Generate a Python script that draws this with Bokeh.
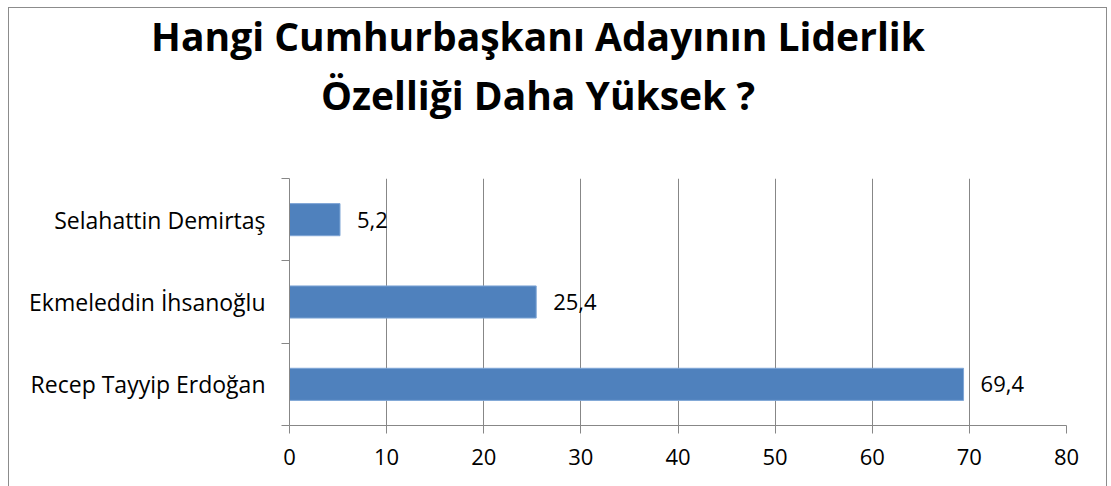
from bokeh.plotting import figure
from bokeh.models import FixedTicker, ColumnDataSource, Range1d, Div
from bokeh.layouts import column
from bokeh.core.properties import value
from bokeh.embed import file_html
from bokeh.resources import INLINE

candidates = ["Recep Tayyip Erdoğan", "Ekmeleddin İhsanoğlu", "Selahattin Demirtaş"]
scores = [69.4, 25.4, 5.2]
score_labels = ["69,4", "25,4", "5,2"]
x_ticks = [0, 10, 20, 30, 40, 50, 60, 70, 80]
title_lines = ["Hangi Cumhurbaşkanı Adayının Liderlik", "Özelliği Daha Yüksek ?"]

FONT = "Open Sans"
GRAY = "#878787"
W = 1097
TITLE_H = 170
PLOT_H = 308

ypos = [i + 0.5 for i in range(len(candidates))]
src = ColumnDataSource(dict(y=ypos, v=scores, lab=score_labels))

title = Div(text="<br>".join(title_lines), width=W, height=TITLE_H, margin=(0, 0, 0, 0),
            styles={"font-family": "'Open Sans'", "font-weight": "bold",
                    "font-size": "39px", "line-height": "59px", "text-align": "center",
                    "color": "black", "padding-right": "39px",
                    "position": "relative", "top": "-2px",
                    "box-sizing": "border-box", "width": f"{W}px", "overflow": "hidden"})

p = figure(width=W, height=PLOT_H, output_backend="svg", toolbar_location=None,
           x_range=Range1d(0, 80), y_range=Range1d(0, 3),
           min_border_left=280, min_border_right=40, min_border_top=0, min_border_bottom=61)
p.outline_line_color = None
p.background_fill_color = "white"

p.hbar(y="y", right="v", left=0, height=0.39, source=src,
       fill_color="#4F81BD", line_color="#7FA6D6", line_width=1)
p.text(x="v", y="y", text="lab", source=src, x_offset=17,
       text_baseline="middle", text_align="left", text_font=value(FONT),
       text_font_size="22px", text_color="black")

# x axis
p.xaxis.ticker = FixedTicker(ticks=x_ticks)
p.xaxis.axis_line_color = GRAY
p.xaxis.major_tick_line_color = GRAY
p.xaxis.major_tick_out = 8
p.xaxis.major_tick_in = 0
p.xaxis.minor_tick_line_color = None
p.xaxis.major_label_text_font = FONT
p.xaxis.major_label_text_font_size = "22px"
p.xaxis.major_label_text_color = "black"
p.xaxis.major_label_standoff = 15

# y axis
p.yaxis.ticker = FixedTicker(ticks=ypos, minor_ticks=[0, 1, 2, 3])
p.yaxis.major_label_overrides = {y: c for y, c in zip(ypos, candidates)}
p.yaxis.axis_line_color = GRAY
p.yaxis.major_tick_line_color = None
p.yaxis.major_tick_out = 0
p.yaxis.minor_tick_line_color = GRAY
p.yaxis.minor_tick_out = 8
p.yaxis.minor_tick_in = 0
p.yaxis.major_label_text_font = FONT
p.yaxis.major_label_text_font_size = "23px"
p.yaxis.major_label_text_color = "black"
p.yaxis.major_label_standoff = 16

p.xgrid.ticker = FixedTicker(ticks=x_ticks)
p.xgrid.grid_line_color = GRAY
p.ygrid.grid_line_color = None

layout = column(title, p, spacing=0)
layout.styles = {"border": "1px solid #8c8c8c", "background-color": "white",
                 "margin-left": "8px", "margin-top": "7px"}

open("out.html", "w").write(file_html(layout, INLINE))
